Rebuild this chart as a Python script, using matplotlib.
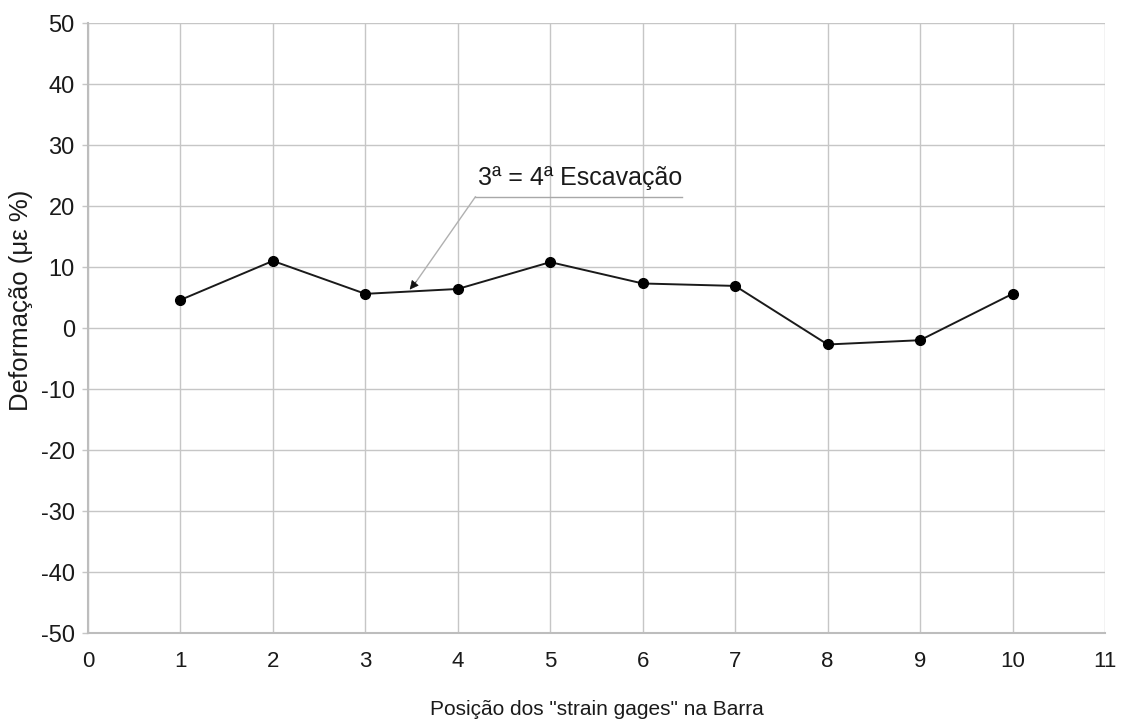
import matplotlib
matplotlib.use("Agg")
import matplotlib.pyplot as plt

# Strain readings along the bar
positions = [1, 2, 3, 4, 5, 6, 7, 8, 9, 10]
deformation = [4.6, 11.0, 5.6, 6.4, 10.8, 7.3, 6.9, -2.7, -2.0, 5.6]

x_ticks = list(range(0, 12))
y_ticks = list(range(-50, 51, 10))

plt.rcParams['font.family'] = ['Liberation Sans', 'DejaVu Sans']
plt.rcParams['axes.unicode_minus'] = False

text_color = '#1a1a1a'
grid_color = '#c6c6c6'

fig = plt.figure(figsize=(11.25, 7.19), dpi=100)
ax = fig.add_axes([0.0782, 0.1196, 0.904, 0.8484])

ax.plot(positions, deformation, color='#1a1a1a', lw=1.4, marker='o',
        ms=7, mfc='black', mec='black', zorder=3)

ax.set_xlim(0, 11)
ax.set_ylim(-50, 50)
ax.set_xticks(x_ticks)
ax.set_yticks(y_ticks)
ax.grid(True, color=grid_color, lw=1.0)
ax.set_axisbelow(True)
for side in ['top', 'right']:
    ax.spines[side].set_visible(False)
for side in ['left', 'bottom']:
    ax.spines[side].set_color('#bdbdbd')
    ax.spines[side].set_linewidth(1.5)

ax.tick_params(axis='y', length=4.5, width=1.0, color=grid_color,
               labelsize=17, labelcolor=text_color, pad=5)
ax.tick_params(axis='x', length=0, labelsize=16,
               labelcolor=text_color, pad=13)

ax.set_xlabel('Posição dos "strain gages" na Barra', fontsize=15,
              color=text_color, labelpad=20)
ax.set_ylabel('Deformação (με %)', fontsize=18.5, color=text_color)
ax.yaxis.label.set_verticalalignment('center')
ax.yaxis.set_label_coords(-0.066, 0.545)

# Callout: underlined label with a leader line down to the curve
ax.plot([4.19, 6.42], [21.5, 21.5], color='#a8a8a8', lw=1.0, zorder=2)
ax.plot([4.19, 3.55], [21.5, 7.6], color='#b0b0b0', lw=1.0, zorder=2)
ax.annotate('', xy=(3.48, 6.3), xytext=(3.55, 7.6),
            arrowprops=dict(arrowstyle='-|>', color='#111111', lw=0.5,
                            mutation_scale=14, shrinkA=0, shrinkB=0),
            zorder=5)
ax.text(4.22, 22.6, '3ª = 4ª Escavação', fontsize=18, color=text_color,
        ha='left', va='bottom')

fig.savefig('out.png', dpi=100)
